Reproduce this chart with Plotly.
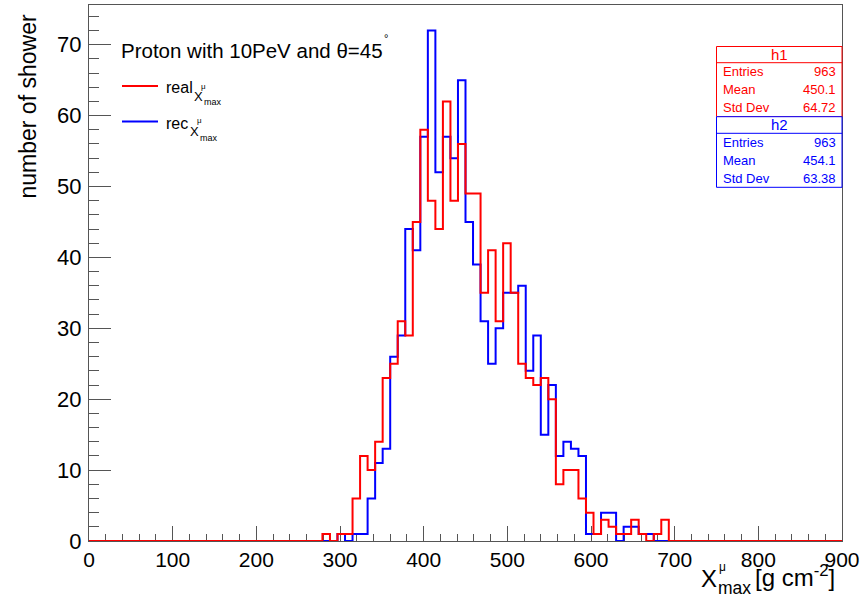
import numpy as np
import plotly.graph_objects as go

# ---------------- data ----------------
N_BINS = 100
X_MIN, X_MAX = 0, 900
FIRST_BIN = 31  # index of first listed bin (bins before are empty)

real_counts = [1, 0, 1, 1, 6, 12, 10, 14, 23, 25, 31, 29, 45, 58, 48, 44, 62, 48, 56, 49,
               49, 35, 41, 31, 42, 35, 25, 23, 22, 23, 20, 8, 10, 10, 6, 4, 1, 3, 2, 1,
               1, 3, 1, 0, 1, 3]
rec_counts = [0, 0, 1, 0, 1, 1, 6, 11, 13, 26, 29, 44, 41, 57, 72, 52, 57, 54, 65, 45,
              39, 31, 25, 30, 35, 35, 36, 24, 29, 15, 22, 12, 14, 13, 12, 1, 1, 4, 4, 0,
              2, 2, 1, 1]

x_ticks = [0, 100, 200, 300, 400, 500, 600, 700, 800, 900]
y_ticks = [0, 10, 20, 30, 40, 50, 60, 70]

stats_h1 = [("Entries", "963"), ("Mean", "450.1"), ("Std Dev", "64.72")]
stats_h2 = [("Entries", "963"), ("Mean", "454.1"), ("Std Dev", "63.38")]

title_text = "Proton with 10PeV and θ=45"

RED = "#ff0000"
BLUE = "#0000ff"
FONT = "Liberation Sans, Arial, Helvetica, sans-serif"


def full_hist(counts):
    h = np.zeros(N_BINS)
    h[FIRST_BIN:FIRST_BIN + len(counts)] = counts
    return h


edges = np.linspace(X_MIN, X_MAX, N_BINS + 1)
h_real = full_hist(real_counts)
h_rec = full_hist(rec_counts)

# ---------------- layout geometry ----------------
W, H = 864, 606
L, R, T, B = 89, 842, 5, 541


def px(x):
    return (x - L) / (R - L)


def py(y):
    return (B - y) / (B - T)


fig = go.Figure()
fig.add_trace(go.Scatter(x=edges, y=np.append(h_rec, h_rec[-1]), mode="lines",
                         line=dict(color=BLUE, width=2, shape="hv"), showlegend=False,
                         hoverinfo="skip"))
fig.add_trace(go.Scatter(x=edges, y=np.append(h_real, h_real[-1]), mode="lines",
                         line=dict(color=RED, width=2, shape="hv"), showlegend=False,
                         hoverinfo="skip"))

ann = []
shapes = []


def text(x, y, s, size, color="black", xanchor="left", yanchor="middle", angle=0):
    ann.append(dict(x=px(x), y=py(y), xref="paper", yref="paper", text=s, showarrow=False,
                    xanchor=xanchor, yanchor=yanchor, textangle=angle, borderpad=0,
                    font=dict(family=FONT, size=size, color=color)))


# title text
text(120, 51, title_text, 20.5)
text(383, 38, "°", 11)

# legend
shapes.append(dict(type="line", xref="paper", yref="paper", x0=px(122), x1=px(158),
                   y0=py(86), y1=py(86), line=dict(color=RED, width=2)))
shapes.append(dict(type="line", xref="paper", yref="paper", x0=px(122), x1=px(158),
                   y0=py(121.5), y1=py(121.5), line=dict(color=BLUE, width=2)))
text(165, 87, "real", 16)
text(192.5, 96.5, "X", 13)
text(200, 86.5, "μ", 8)
text(203, 102, "max", 9)
text(165, 123, "rec", 16)
text(188.5, 131.5, "X", 13)
text(196, 121, "μ", 8)
text(199, 138, "max", 9)

# axis titles
text(27, 106.5, "number of shower", 23, angle=-90, xanchor="center")
text(700, 578, "X", 24)
text(718, 567, "μ", 12)
text(717, 588, "max", 17.5)
text(754, 576, "[g cm<sup>-2</sup>]", 24)

# stats boxes
bx0, bx1 = 716.5, 842


def stats_box(y0, yh, y1, name, rows, color):
    shapes.append(dict(type="rect", xref="paper", yref="paper", x0=px(bx0), x1=px(bx1),
                       y0=py(y1), y1=py(y0), line=dict(color=color, width=1),
                       fillcolor="white", layer="above"))
    shapes.append(dict(type="line", xref="paper", yref="paper", x0=px(bx0), x1=px(bx1),
                       y0=py(yh), y1=py(yh), line=dict(color=color, width=1)))
    text((bx0 + bx1) / 2, (y0 + yh) / 2, name, 15, color, xanchor="center")
    step = (y1 - yh) / len(rows)
    for i, (lab, val) in enumerate(rows):
        yc = yh + step * (i + 0.5)
        text(722, yc, lab, 13, color)
        text(837, yc, val, 13, color, xanchor="right")


stats_box(46.5, 62.7, 116.7, "h1", stats_h1, RED)
stats_box(116.7, 133.3, 187.3, "h2", stats_h2, BLUE)

fig.update_layout(
    width=W, height=H,
    margin=dict(l=L, r=W - R, t=T, b=H - B, pad=0),
    paper_bgcolor="white", plot_bgcolor="white",
    annotations=ann, shapes=shapes,
    font=dict(family=FONT, color="black"),
)
fig.update_xaxes(range=[X_MIN, X_MAX], tickvals=x_ticks, ticks="inside", ticklen=15,
                 tickcolor="#555", tickwidth=1, showline=True, linecolor="#555", linewidth=1,
                 mirror=True, showgrid=False, zeroline=False, layer="below traces",
                 tickfont=dict(size=21, family=FONT, color="black"),
                 minor=dict(dtick=20, tick0=0, ticks="inside", ticklen=7, tickcolor="#555",
                            showgrid=False))
fig.update_yaxes(range=[0, 75.6], tickvals=y_ticks, ticks="inside", ticklen=22,
                 tickcolor="#555", tickwidth=1, showline=True, linecolor="#555", linewidth=1,
                 mirror=True, showgrid=False, zeroline=False, layer="below traces",
                 ticklabelstandoff=2,
                 tickfont=dict(size=22, family=FONT, color="black"),
                 minor=dict(dtick=2, tick0=0, ticks="inside", ticklen=10, tickcolor="#555",
                            showgrid=False))

fig.write_html("out.html")
